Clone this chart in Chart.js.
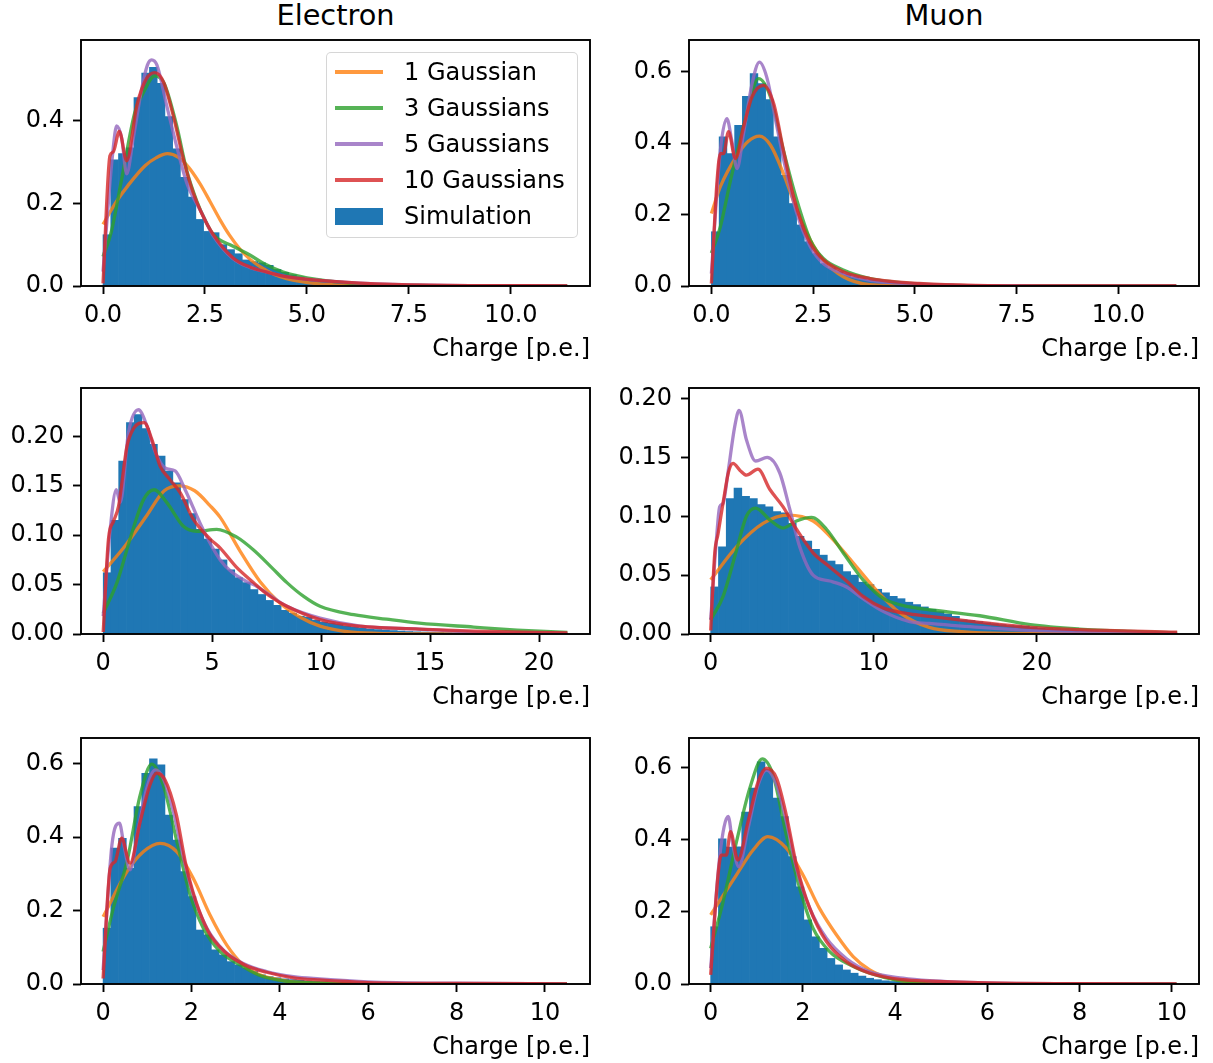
<!DOCTYPE html>
<html>
<head>
<meta charset="utf-8">
<script src="https://cdn.jsdelivr.net/npm/chart.js@4.4.0/dist/chart.umd.min.js"></script>
<style>
  body { margin: 0; width: 1213px; height: 1063px; background: #fff; position: relative; overflow: hidden;
         font-family: 'DejaVu Sans', sans-serif; color: #000; }
  canvas { position: absolute; }
  .coltitle { position: absolute; top: 1px; font-size: 28.8px; line-height: 28.8px; text-align: center; }
  .legend { position: absolute; left: 326px; top: 52px; width: 252px; height: 186px; box-sizing: border-box;
            border: 1.9px solid rgba(204,204,204,0.8); border-radius: 5px; background: rgba(255,255,255,0.8); }
  .lg-row { position: absolute; left: 0; width: 100%; height: 24px; }
  .lg-line { position: absolute; left: 8px; width: 48px; height: 3.4px; top: 10.3px; }
  .lg-patch { position: absolute; left: 8px; width: 48px; height: 17px; top: 3.5px; background: #1f77b4; }
  .lg-text { position: absolute; left: 77px; top: 0; font-size: 24px; line-height: 24px; white-space: nowrap; }
</style>
</head>
<body>

<div class="coltitle" style="left:81px;width:509px;">Electron</div>
<div class="coltitle" style="left:689px;width:510px;">Muon</div>

<script>
// ---- data: histogram densities (equal-width bins from 0 to xMax) ----
const elecTopHist = [0.124, 0.305, 0.32, 0.334, 0.456, 0.515, 0.529, 0.49, 0.41, 0.332,
  0.263, 0.215, 0.161, 0.132, 0.129, 0.1, 0.088, 0.078, 0.063, 0.059,
  0.056, 0.05, 0.04, 0.033, 0.027, 0.022, 0.017, 0.014, 0.011, 0.009,
  0.007, 0.005, 0.004, 0.0035, 0.003, 0.0025, 0.002, 0.0016, 0.0013, 0.001,
  0.0009, 0.0008, 0.0007, 0.0006, 0.0005, 0.0004, 0.0003, 0.0003, 0.0002, 0.0002,
  0.0002, 0.0001, 0.0001, 0.0001, 0.0001, 0.0001, 0, 0, 0, 0.0001];
const muonTopHist = [0.152, 0.418, 0.371, 0.45, 0.531, 0.595, 0.567, 0.522, 0.418, 0.31,
  0.231, 0.171, 0.124, 0.091, 0.063, 0.05, 0.04, 0.032, 0.025, 0.02,
  0.016, 0.013, 0.01, 0.008, 0.006, 0.005, 0.004, 0.003, 0.0025, 0.002,
  0.0017, 0.0014, 0.0012, 0.001, 0.0008, 0.0007, 0.0006, 0.0005, 0.0004, 0.0003,
  0.0003, 0.0002, 0.0002, 0.0002, 0.0001, 0.0001, 0.0001, 0.0001, 0.0001, 0.0001,
  0, 0.0001, 0, 0, 0, 0, 0, 0, 0, 0.0001];
const elecMidHist = [0.062, 0.115, 0.175, 0.214, 0.222, 0.208, 0.192, 0.18, 0.165, 0.153,
  0.136, 0.122, 0.106, 0.096, 0.086, 0.075, 0.065, 0.057, 0.052, 0.045,
  0.04, 0.034, 0.029, 0.024, 0.021, 0.018, 0.017, 0.014, 0.012, 0.011,
  0.01, 0.008, 0.007, 0.006, 0.005, 0.0045, 0.004, 0.0035, 0.003, 0.0025,
  0.0022, 0.002, 0.0018, 0.0016, 0.0014, 0.0012, 0.001, 0.0009, 0.0008, 0.0007,
  0.0006, 0.0005, 0.0005, 0.0004, 0.0003, 0.0003, 0.0002, 0.0002, 0.0001, 0.0001];
const muonMidHist = [0.040, 0.074, 0.115, 0.124, 0.117, 0.115, 0.11, 0.108, 0.104, 0.103,
  0.094, 0.083, 0.079, 0.072, 0.067, 0.062, 0.059, 0.053, 0.05, 0.044,
  0.042, 0.038, 0.035, 0.032, 0.03, 0.027, 0.025, 0.023, 0.021, 0.019,
  0.017, 0.015, 0.012, 0.0115, 0.0105, 0.0095, 0.0088, 0.008, 0.0072, 0.007,
  0.0065, 0.0056, 0.005, 0.0046, 0.0042, 0.0038, 0.0034, 0.003, 0.0027, 0.0024,
  0.0021, 0.0018, 0.0016, 0.0014, 0.0012, 0.001, 0.0008, 0.0007, 0.0005, 0.0004];
const elecBotHist = [0.152, 0.37, 0.397, 0.315, 0.483, 0.574, 0.613, 0.597, 0.46, 0.392,
  0.306, 0.238, 0.147, 0.134, 0.093, 0.079, 0.061, 0.052, 0.043, 0.034,
  0.025, 0.02, 0.017, 0.014, 0.012, 0.01, 0.008, 0.007, 0.006, 0.005,
  0.004, 0.0035, 0.003, 0.0025, 0.002, 0.0018, 0.0015, 0.0013, 0.0011, 0.001,
  0.0009, 0.0008, 0.0007, 0.0006, 0.0005, 0.0004, 0.0004, 0.0003, 0.0003, 0.0002,
  0.0002, 0.0002, 0.0001, 0.0001, 0.0001, 0.0001, 0.0001, 0, 0, 0.0001];
const muonBotHist = [0.159, 0.403, 0.38, 0.381, 0.477, 0.544, 0.617, 0.594, 0.516, 0.465,
  0.354, 0.27, 0.178, 0.131, 0.099, 0.071, 0.053, 0.039, 0.03, 0.022,
  0.016, 0.012, 0.009, 0.007, 0.006, 0.005, 0.004, 0.0035, 0.003, 0.0025,
  0.002, 0.0018, 0.0015, 0.0013, 0.0011, 0.001, 0.0009, 0.0008, 0.0007, 0.0006,
  0.0005, 0.0005, 0.0004, 0.0004, 0.0003, 0.0003, 0.0002, 0.0002, 0.0002, 0.0001,
  0.0001, 0.0001, 0.0001, 0.0001, 0.0001, 0, 0, 0, 0, 0.0001];

// ---- data: fitted curves, [charge, density] ----
const elecTopFit1 = [[0,0.149],[0.3,0.2],[0.62,0.244],[1.03,0.291],[1.3,0.31],[1.58,0.32],[1.85,0.311],[2.1,0.287],
  [2.38,0.247],[2.62,0.205],[2.87,0.16],[3.1,0.123],[3.36,0.089],[3.6,0.065],[3.85,0.047],[4.2,0.028],[4.5,0.018],
  [4.83,0.011],[5.3,0.005],[6,0.0015],[7,0.0004],[9,0.0001],[11.38,0]];
const elecTopFit3 = [[0,0.071],[0.2,0.13],[0.46,0.26],[0.78,0.42],[1.0,0.47],[1.27,0.508],[1.5,0.49],[1.8,0.39],
  [2.05,0.28],[2.3,0.205],[2.5,0.16],[2.7,0.125],[3.19,0.096],[3.6,0.075],[3.93,0.055],[4.42,0.034],[5.24,0.016],
  [6.5,0.004],[8,0.001],[11.38,0.0001]];
const elecTopFit5 = [[0,0.035],[0.24,0.324],[0.335,0.387],[0.46,0.356],[0.58,0.271],[0.74,0.356],[0.95,0.478],
  [1.09,0.535],[1.19,0.547],[1.32,0.535],[1.56,0.437],[1.8,0.34],[2.05,0.25],[2.4,0.18],[2.7,0.122],[3.19,0.066],
  [3.6,0.045],[4.0,0.034],[4.42,0.024],[5.24,0.014],[6.3,0.007],[8,0.002],[11.38,0.0003]];
const elecTopFit10 = [[0,0.0065],[0.17,0.315],[0.25,0.324],[0.4,0.374],[0.58,0.303],[0.83,0.437],[1.07,0.502],
  [1.27,0.516],[1.48,0.494],[1.72,0.413],[1.97,0.307],[2.21,0.226],[2.4,0.18],[2.7,0.125],[3.19,0.068],[3.6,0.046],
  [4.0,0.034],[4.42,0.024],[5.24,0.014],[6.3,0.007],[8,0.002],[11.38,0.0003]];

const muonTopFit1 = [[0,0.203],[0.22,0.278],[0.63,0.366],[0.9,0.405],[1.18,0.42],[1.45,0.395],[1.77,0.315],[2.1,0.213],
  [2.43,0.129],[2.75,0.073],[3.24,0.026],[3.9,0.004],[5,0.0003],[11.42,0]];
const muonTopFit3 = [[0,0.092],[0.22,0.166],[0.47,0.296],[0.79,0.446],[1.16,0.581],[1.45,0.53],[1.77,0.38],[2.1,0.24],
  [2.43,0.129],[2.75,0.077],[3.24,0.045],[3.9,0.021],[4.71,0.009],[6,0.002],[8,0.0004],[11.42,0]];
const muonTopFit5 = [[0,0.035],[0.22,0.38],[0.38,0.469],[0.5,0.408],[0.63,0.329],[0.79,0.427],[1.0,0.567],[1.18,0.627],
  [1.36,0.585],[1.61,0.446],[1.85,0.315],[2.1,0.203],[2.43,0.11],[2.75,0.063],[3.24,0.035],[3.9,0.016],[4.71,0.007],
  [6,0.002],[8,0.0005],[11.42,0]];
const muonTopFit10 = [[0,0.007],[0.14,0.296],[0.22,0.371],[0.3,0.371],[0.42,0.432],[0.59,0.357],[0.79,0.446],[1.0,0.53],
  [1.28,0.562],[1.53,0.511],[1.77,0.38],[2.02,0.25],[2.35,0.138],[2.67,0.082],[3.24,0.04],[3.9,0.021],[5.1,0.007],
  [6.5,0.002],[8.5,0.0005],[11.42,0.0001]];

const elecMidFit1 = [[0,0.063],[1,0.089],[2,0.12],[2.8,0.145],[3.5,0.15],[4.2,0.145],[4.9,0.13],[5.37,0.118],
  [6.28,0.084],[7.2,0.053],[8.12,0.031],[9.04,0.017],[9.95,0.008],[11,0.003],[12,0.001],[14,0.0001],[21.3,0]];
const elecMidFit3 = [[0,0.021],[0.63,0.052],[1.31,0.102],[1.85,0.136],[2.34,0.146],[2.92,0.133],[3.68,0.109],[4.3,0.104],
  [5.21,0.106],[6.13,0.098],[6.9,0.085],[7.7,0.068],[8.43,0.052],[9.2,0.038],[9.95,0.028],[11.5,0.0195],[13,0.015],
  [14.5,0.011],[17,0.007],[19,0.004],[21.3,0.0015]];
const elecMidFit5 = [[0,0.018],[0.32,0.106],[0.6,0.146],[0.78,0.133],[1.16,0.204],[1.62,0.227],[2.0,0.211],[2.39,0.184],
  [2.84,0.168],[3.3,0.165],[3.76,0.146],[4.45,0.112],[5.0,0.088],[5.37,0.075],[5.83,0.064],[6.59,0.053],[6.9,0.05],
  [7.6,0.04],[8.43,0.028],[9.95,0.016],[11.8,0.008],[14.5,0.005],[17,0.002],[21.3,0.0007]];
const elecMidFit10 = [[0,0.002],[0.24,0.096],[0.47,0.114],[0.7,0.129],[1.09,0.19],[1.39,0.208],[1.88,0.214],[2.23,0.197],
  [2.61,0.17],[3.07,0.156],[3.53,0.143],[4.14,0.116],[4.91,0.096],[5.37,0.087],[6.1,0.068],[6.9,0.052],[7.6,0.039],
  [8.43,0.028],[9.95,0.0145],[11.5,0.0084],[14.5,0.005],[17,0.003],[21.3,0.001]];

const muonMidFit1 = [[0,0.046],[1.58,0.074],[3.21,0.094],[4.74,0.101],[6.28,0.096],[7.71,0.077],[8.94,0.057],
  [10.17,0.037],[11.6,0.018],[13.4,0.0056],[15.4,0.002],[18,0.0005],[28.6,0]];
const muonMidFit3 = [[0,0.012],[0.76,0.032],[1.58,0.071],[2.19,0.1],[2.76,0.107],[3.62,0.097],[4.44,0.09],[5.26,0.096],
  [6.18,0.099],[7.1,0.089],[8.12,0.069],[9.34,0.046],[10.6,0.03],[12.2,0.023],[13.4,0.0206],[16.5,0.0155],
  [19.6,0.0079],[22.6,0.0042],[25.7,0.0022],[28.6,0.001]];
const muonMidFit5 = [[0,0.012],[0.35,0.08],[0.55,0.108],[0.76,0.111],[1.06,0.137],[1.47,0.176],[1.74,0.19],[2.19,0.165],
  [2.76,0.147],[3.46,0.15],[4.23,0.137],[4.85,0.106],[5.46,0.074],[6.28,0.05],[7.3,0.045],[8.33,0.04],[9.34,0.03],
  [10.6,0.019],[12.2,0.0105],[13.4,0.009],[16.5,0.0056],[19.6,0.0031],[22.6,0.002],[28.6,0.0005]];
const muonMidFit10 = [[0,0.003],[0.25,0.069],[0.45,0.085],[0.8,0.115],[1.1,0.138],[1.37,0.145],[1.8,0.139],[2.19,0.135],
  [2.9,0.14],[3.62,0.123],[4.44,0.108],[5.26,0.089],[6.28,0.069],[7.3,0.057],[8.33,0.045],[9.34,0.032],[10.6,0.022],
  [12.2,0.017],[13.4,0.015],[16.5,0.0099],[19.6,0.0056],[22.6,0.0037],[28.6,0.0015]];

const elecBotFit1 = [[0,0.183],[0.54,0.306],[0.91,0.36],[1.29,0.383],[1.67,0.36],[2.04,0.288],[2.42,0.188],[2.8,0.106],
  [3.17,0.052],[3.55,0.025],[4.16,0.008],[4.9,0.002],[6,0.0003],[10.5,0]];
const elecBotFit3 = [[0,0.088],[0.23,0.206],[0.54,0.333],[0.84,0.515],[1.1,0.599],[1.36,0.542],[1.67,0.388],[1.97,0.243],
  [2.27,0.152],[2.65,0.088],[3.1,0.052],[3.55,0.023],[4.16,0.007],[4.9,0.003],[6,0.001],[10.5,0]];
const elecBotFit5 = [[0,0.038],[0.2,0.379],[0.37,0.438],[0.47,0.379],[0.61,0.311],[0.8,0.424],[0.99,0.533],[1.18,0.583],
  [1.36,0.56],[1.59,0.47],[1.82,0.343],[2.04,0.243],[2.35,0.152],[2.72,0.093],[3.17,0.056],[3.7,0.034],[4.31,0.02],
  [4.9,0.014],[6,0.006],[8,0.002],[10.5,0.0005]];
const elecBotFit10 = [[0,0.015],[0.16,0.315],[0.27,0.333],[0.42,0.397],[0.61,0.329],[0.84,0.442],[1.06,0.542],[1.21,0.574],
  [1.4,0.556],[1.66,0.46],[1.86,0.333],[2.08,0.233],[2.38,0.143],[2.75,0.088],[3.21,0.052],[3.7,0.032],[4.31,0.017],
  [4.9,0.011],[6,0.004],[8,0.0015],[10.5,0.0003]];

const muonBotFit1 = [[0,0.192],[0.56,0.303],[0.92,0.372],[1.24,0.409],[1.64,0.377],[2.0,0.303],[2.36,0.21],[2.73,0.136],
  [3.09,0.076],[3.45,0.039],[3.88,0.016],[4.46,0.004],[5.5,0.0005],[10.1,0]];
const muonBotFit3 = [[0,0.099],[0.27,0.229],[0.56,0.395],[0.85,0.544],[1.12,0.625],[1.35,0.581],[1.64,0.414],[1.93,0.266],
  [2.22,0.155],[2.58,0.09],[3.02,0.053],[3.45,0.03],[4.03,0.011],[4.6,0.004],[6,0.0008],[10.1,0]];
const muonBotFit5 = [[0,0.044],[0.2,0.358],[0.38,0.465],[0.48,0.386],[0.61,0.326],[0.81,0.432],[1.03,0.553],[1.21,0.594],
  [1.43,0.553],[1.64,0.451],[1.86,0.321],[2.15,0.21],[2.51,0.127],[2.94,0.071],[3.45,0.034],[4.17,0.016],[4.75,0.009],
  [6,0.003],[8,0.001],[10.1,0.0002]];
const muonBotFit10 = [[0,0.025],[0.16,0.303],[0.23,0.358],[0.34,0.358],[0.43,0.423],[0.59,0.344],[0.81,0.451],[1.03,0.562],
  [1.21,0.599],[1.43,0.571],[1.64,0.469],[1.86,0.331],[2.15,0.21],[2.51,0.118],[2.94,0.062],[3.45,0.03],[4.17,0.012],
  [4.75,0.008],[6,0.003],[8,0.001],[10.1,0.0003]];

// ---- ticks ----
const xTicksTop = [0, 2.5, 5, 7.5, 10];
const xLabelsTop = ['0.0', '2.5', '5.0', '7.5', '10.0'];
const xTicksElecMid = [0, 5, 10, 15, 20];
const xLabelsElecMid = ['0', '5', '10', '15', '20'];
const xTicksMuonMid = [0, 10, 20];
const xLabelsMuonMid = ['0', '10', '20'];
const xTicksBot = [0, 2, 4, 6, 8, 10];
const xLabelsBot = ['0', '2', '4', '6', '8', '10'];
const yTicksElecTop = [0, 0.2, 0.4];
const yLabelsElecTop = ['0.0', '0.2', '0.4'];
const yTicksWide = [0, 0.2, 0.4, 0.6];
const yLabelsWide = ['0.0', '0.2', '0.4', '0.6'];
const yTicksMid = [0, 0.05, 0.10, 0.15, 0.20];
const yLabelsMid = ['0.00', '0.05', '0.10', '0.15', '0.20'];

const seriesNames = ['1 Gaussian', '3 Gaussians', '5 Gaussians', '10 Gaussians'];
const seriesColors = ['rgba(255,127,14,0.8)', 'rgba(44,160,44,0.8)', 'rgba(148,103,189,0.8)', 'rgba(214,39,40,0.8)'];
const histColor = '#1f77b4';
const FONT = 'DejaVu Sans';

const panels = [
  { box: [81, 40, 590, 286], hist: elecTopHist, xMax: 11.38, xLim: [-0.54, 11.94], yTop: 0.595,
    fits: [elecTopFit1, elecTopFit3, elecTopFit5, elecTopFit10],
    xt: xTicksTop, xl: xLabelsTop, yt: yTicksElecTop, yl: yLabelsElecTop },
  { box: [689, 40, 1199, 286], hist: muonTopHist, xMax: 11.42, xLim: [-0.55, 11.98], yTop: 0.689,
    fits: [muonTopFit1, muonTopFit3, muonTopFit5, muonTopFit10],
    xt: xTicksTop, xl: xLabelsTop, yt: yTicksWide, yl: yLabelsWide },
  { box: [81, 388, 590, 634], hist: elecMidHist, xMax: 21.3, xLim: [-1.02, 22.34], yTop: 0.249,
    fits: [elecMidFit1, elecMidFit3, elecMidFit5, elecMidFit10],
    xt: xTicksElecMid, xl: xLabelsElecMid, yt: yTicksMid, yl: yLabelsMid },
  { box: [689, 388, 1199, 634], hist: muonMidHist, xMax: 28.6, xLim: [-1.33, 29.94], yTop: 0.209,
    fits: [muonMidFit1, muonMidFit3, muonMidFit5, muonMidFit10],
    xt: xTicksMuonMid, xl: xLabelsMuonMid, yt: yTicksMid, yl: yLabelsMid },
  { box: [81, 738, 590, 984], hist: elecBotHist, xMax: 10.5, xLim: [-0.5, 11.02], yTop: 0.67,
    fits: [elecBotFit1, elecBotFit3, elecBotFit5, elecBotFit10],
    xt: xTicksBot, xl: xLabelsBot, yt: yTicksWide, yl: yLabelsWide },
  { box: [689, 738, 1199, 984], hist: muonBotHist, xMax: 10.1, xLim: [-0.47, 10.59], yTop: 0.683,
    fits: [muonBotFit1, muonBotFit3, muonBotFit5, muonBotFit10],
    xt: xTicksBot, xl: xLabelsBot, yt: yTicksWide, yl: yLabelsWide }
];

// full box around the plot area, like matplotlib spines
const framePlugin = {
  id: 'frame',
  afterDraw(chart) {
    const a = chart.chartArea, ctx = chart.ctx;
    ctx.save();
    ctx.strokeStyle = '#000';
    ctx.lineWidth = 1.9;
    ctx.strokeRect(a.left, a.top, a.right - a.left, a.bottom - a.top);
    ctx.restore();
  }
};

function makePanel(p) {
  const padL = 80, padT = 40, padR = 20, padB = 80;
  const w = p.box[2] - p.box[0], h = p.box[3] - p.box[1];
  const cv = document.createElement('canvas');
  cv.width = w + padL + padR;
  cv.height = h + padT + padB;
  cv.style.left = (p.box[0] - padL) + 'px';
  cv.style.top = (p.box[1] - padT) + 'px';
  document.body.appendChild(cv);

  const bw = p.xMax / p.hist.length;
  const bars = p.hist.map((v, i) => ({ x: (i + 0.5) * bw, y: v }));

  const datasets = p.fits.map((f, k) => ({
    type: 'line',
    label: seriesNames[k],
    data: f.map(pt => ({ x: pt[0], y: pt[1] })),
    borderColor: seriesColors[k],
    borderWidth: 3.3,
    pointRadius: 0,
    fill: false,
    cubicInterpolationMode: 'monotone',
    order: 4 - k
  }));
  datasets.push({
    type: 'bar',
    label: 'Simulation',
    data: bars,
    backgroundColor: histColor,
    borderWidth: 0,
    barPercentage: 1,
    categoryPercentage: 1,
    order: 10
  });

  const tickFont = { family: FONT, size: 24 };

  new Chart(cv, {
    type: 'bar',
    data: { datasets },
    plugins: [framePlugin],
    options: {
      responsive: false,
      animation: false,
      devicePixelRatio: 1,
      layout: { padding: { left: 0, top: padT, right: padR, bottom: 0 } },
      plugins: { legend: { display: false }, tooltip: { enabled: false } },
      scales: {
        x: {
          type: 'linear',
          min: p.xLim[0], max: p.xLim[1],
          offset: false,
          afterBuildTicks: s => { s.ticks = p.xt.map(v => ({ value: v })); },
          afterFit: s => { s.height = padB; },
          ticks: { font: tickFont, color: '#000', padding: 7, maxRotation: 0, autoSkip: false,
                   callback: (v, i) => p.xl[i] },
          grid: { display: true, drawOnChartArea: false, drawTicks: true, tickLength: 8,
                  tickWidth: 1.9, tickColor: '#000', offset: false },
          border: { display: false },
          title: { display: true, text: 'Charge [p.e.]', align: 'end', color: '#000',
                   font: { family: FONT, size: 24 }, padding: { top: 0, bottom: 1.8 } }
        },
        y: {
          type: 'linear',
          min: 0, max: p.yTop,
          afterBuildTicks: s => { s.ticks = p.yt.map(v => ({ value: v })); },
          afterFit: s => { s.width = padL; },
          ticks: { font: tickFont, color: '#000', padding: 9, autoSkip: false,
                   callback: (v, i) => p.yl[i] },
          grid: { display: true, drawOnChartArea: false, drawTicks: true, tickLength: 8,
                  tickWidth: 1.9, tickColor: '#000' },
          border: { display: false }
        }
      }
    }
  });
}

panels.forEach(makePanel);

// legend (top-left panel)
const legend = document.createElement('div');
legend.className = 'legend';
const rowTops = [7, 43, 79, 115, 151];
seriesNames.concat(['Simulation']).forEach((name, i) => {
  const row = document.createElement('div');
  row.className = 'lg-row';
  row.style.top = rowTops[i] + 'px';
  const mark = document.createElement('div');
  if (i < 4) { mark.className = 'lg-line'; mark.style.background = seriesColors[i]; }
  else { mark.className = 'lg-patch'; }
  const txt = document.createElement('div');
  txt.className = 'lg-text';
  txt.textContent = name;
  row.appendChild(mark);
  row.appendChild(txt);
  legend.appendChild(row);
});
document.body.appendChild(legend);
</script>
</body>
</html>
